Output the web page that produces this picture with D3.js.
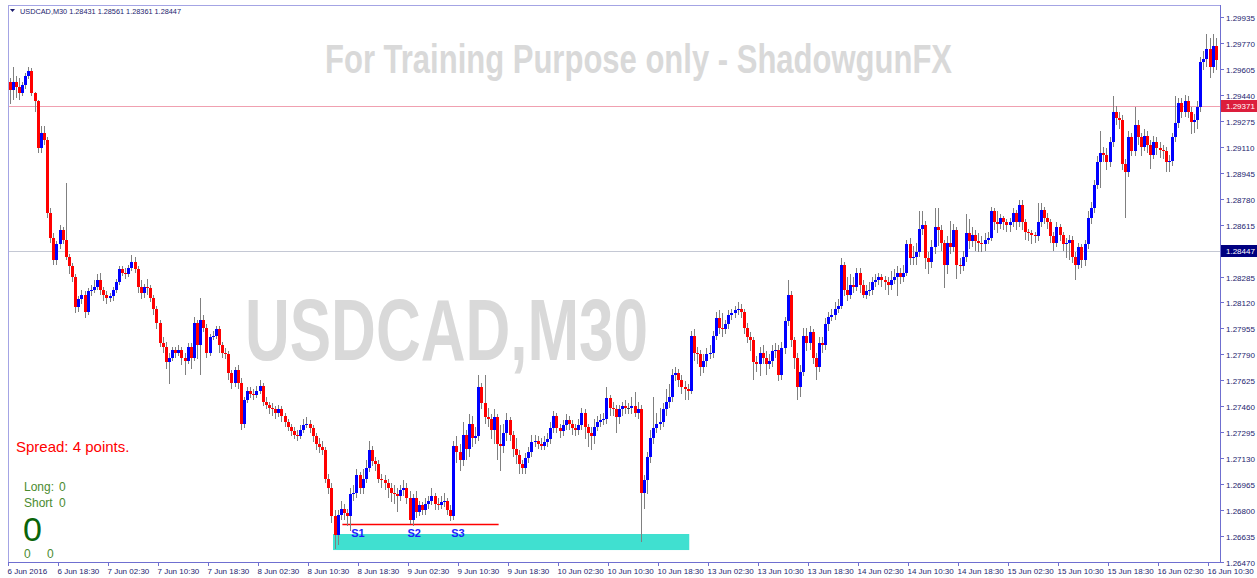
<!DOCTYPE html>
<html>
<head>
<meta charset="utf-8">
<script src="https://cdn.jsdelivr.net/npm/d3@7"></script>
<style>
  body { margin: 0; background: #fff; }
  svg { display: block; }
</style>
</head>
<body>
<div id="wrapper"></div>
<script>
// USDCAD M30 candles (open = previous close)
const firstOpen = 1.2952;

const closes = [
  1.2947,1.2952,1.2949,1.2945,1.2950,1.2956,1.2959,1.2945,1.2940,1.2910,1.2920,1.2915,1.2869,1.2853,1.2839,1.2849,
  1.2858,1.2852,1.2841,1.2835,1.2828,1.2809,1.2814,1.2817,1.2806,1.2819,1.2820,1.2822,1.2826,1.2820,1.2817,1.2815,
  1.2816,1.2820,1.2825,1.2833,1.2831,1.2830,1.2834,1.2838,1.2833,1.2822,1.2818,1.2822,1.2821,1.2815,1.2808,1.2799,
  1.2786,1.2784,1.2774,1.2777,1.2782,1.2780,1.2782,1.2777,1.2775,1.2784,1.2777,1.2799,1.2785,1.2801,1.2796,1.2780,
  1.2790,1.2791,1.2795,1.2785,1.2780,1.2779,1.2767,1.2761,1.2769,1.2761,1.2735,1.2750,1.2756,1.2754,1.2753,1.2756,
  1.2759,1.2749,1.2747,1.2745,1.2744,1.2742,1.2744,1.2740,1.2736,1.2733,1.2730,1.2728,1.2727,1.2731,1.2734,1.2735,
  1.2732,1.2727,1.2722,1.2720,1.2718,1.2700,1.2694,1.2676,1.2664,1.2677,1.2681,1.2678,1.2676,1.2690,1.2691,1.2702,
  1.2694,1.2700,1.2707,1.2718,1.2711,1.2709,1.2700,1.2699,1.2697,1.2694,1.2691,1.2690,1.2689,1.2693,1.2694,1.2688,
  1.2674,1.2688,1.2679,1.2683,1.2680,1.2684,1.2686,1.2689,1.2684,1.2683,1.2685,1.2686,1.2680,1.2676,1.2721,1.2717,
  1.2712,1.2728,1.2719,1.2735,1.2726,1.2727,1.2758,1.2748,1.2739,1.2738,1.2731,1.2739,1.2722,1.2721,1.2729,1.2737,
  1.2728,1.2719,1.2715,1.2709,1.2707,1.2713,1.2717,1.2723,1.2724,1.2722,1.2721,1.2723,1.2725,1.2732,1.2740,1.2732,
  1.2730,1.2734,1.2737,1.2735,1.2732,1.2731,1.2734,1.2742,1.2733,1.2729,1.2727,1.2733,1.2736,1.2737,1.2738,1.2751,
  1.2745,1.2744,1.2739,1.2744,1.2746,1.2745,1.2745,1.2746,1.2742,1.2744,1.2691,1.2699,1.2714,1.2726,1.2732,1.2735,
  1.2736,1.2744,1.2749,1.2752,1.2766,1.2767,1.2763,1.2758,1.2757,1.2756,1.2791,1.2780,1.2779,1.2771,1.2775,1.2779,
  1.2780,1.2791,1.2802,1.2796,1.2795,1.2798,1.2804,1.2805,1.2807,1.2808,1.2806,1.2796,1.2790,1.2788,1.2774,1.2773,
  1.2780,1.2777,1.2773,1.2775,1.2781,1.2782,1.2766,1.2783,1.2800,1.2817,1.2788,1.2777,1.2758,1.2768,1.2791,1.2786,
  1.2793,1.2777,1.2771,1.2786,1.2785,1.2798,1.2803,1.2804,1.2808,1.2810,1.2836,1.2820,1.2817,1.2823,1.2822,1.2831,
  1.2823,1.2817,1.2819,1.2820,1.2825,1.2826,1.2828,1.2826,1.2825,1.2823,1.2826,1.2828,1.2831,1.2828,1.2831,1.2849,
  1.2840,1.2841,1.2844,1.2859,1.2861,1.2840,1.2838,1.2847,1.2860,1.2858,1.2850,1.2836,1.2850,1.2847,1.2858,1.2836,
  1.2835,1.2841,1.2856,1.2851,1.2855,1.2851,1.2850,1.2849,1.2852,1.2853,1.2870,1.2863,1.2862,1.2866,1.2863,1.2861,
  1.2863,1.2869,1.2863,1.2874,1.2863,1.2857,1.2856,1.2855,1.2854,1.2863,1.2871,1.2866,1.2863,1.2854,1.2850,1.2860,
  1.2855,1.2849,1.2850,1.2852,1.2841,1.2836,1.2847,1.2839,1.2849,1.2866,1.2872,1.2887,1.2901,1.2907,1.2906,1.2901,
  1.2914,1.2933,1.2929,1.2928,1.2900,1.2895,1.2917,1.2908,1.2925,1.2917,1.2911,1.2918,1.2912,1.2906,1.2914,1.2910,
  1.2909,1.2908,1.2901,1.2902,1.2917,1.2926,1.2939,1.2933,1.2940,1.2933,1.2927,1.2928,1.2936,1.2965,1.2967,1.2973,
  1.2962,1.2975,1.2966
];

const highs = [
  1.2955,1.2962,1.2956,1.2955,1.2952,1.2958,1.2962,1.2961,1.2946,1.2941,1.2924,1.2924,1.2917,1.2872,1.2856,1.2851,
  1.2861,1.2860,1.2888,1.2843,1.2837,1.2830,1.2816,1.2820,1.2819,1.2821,1.2823,1.2826,1.2830,1.2831,1.2822,1.2819,
  1.2818,1.2822,1.2827,1.2835,1.2835,1.2834,1.2836,1.2842,1.2841,1.2835,1.2826,1.2824,1.2827,1.2823,1.2817,1.2810,
  1.2801,1.2790,1.2787,1.2780,1.2784,1.2784,1.2785,1.2784,1.2780,1.2786,1.2786,1.2803,1.2801,1.2815,1.2804,1.2798,
  1.2792,1.2794,1.2797,1.2797,1.2787,1.2783,1.2781,1.2769,1.2771,1.2772,1.2764,1.2752,1.2758,1.2758,1.2757,1.2759,
  1.2763,1.2761,1.2752,1.2749,1.2748,1.2746,1.2747,1.2746,1.2742,1.2738,1.2735,1.2733,1.2731,1.2734,1.2738,1.2739,
  1.2737,1.2734,1.2729,1.2726,1.2724,1.2720,1.2703,1.2697,1.2680,1.2680,1.2686,1.2684,1.2681,1.2694,1.2696,1.2706,
  1.2704,1.2706,1.2712,1.2724,1.2721,1.2714,1.2712,1.2703,1.2702,1.2700,1.2697,1.2696,1.2694,1.2696,1.2699,1.2697,
  1.2692,1.2690,1.2692,1.2686,1.2685,1.2688,1.2689,1.2694,1.2691,1.2688,1.2689,1.2691,1.2688,1.2683,1.2724,1.2727,
  1.2722,1.2736,1.2731,1.2741,1.2740,1.2733,1.2766,1.2761,1.2766,1.2745,1.2741,1.2744,1.2741,1.2734,1.2735,1.2742,
  1.2739,1.2730,1.2726,1.2718,1.2712,1.2716,1.2720,1.2728,1.2728,1.2727,1.2726,1.2727,1.2729,1.2736,1.2743,1.2742,
  1.2735,1.2737,1.2741,1.2740,1.2737,1.2735,1.2738,1.2745,1.2744,1.2735,1.2733,1.2738,1.2740,1.2741,1.2742,1.2758,
  1.2753,1.2749,1.2747,1.2747,1.2749,1.2750,1.2748,1.2752,1.2755,1.2749,1.2747,1.2702,1.2717,1.2731,1.2752,1.2742,
  1.2745,1.2748,1.2757,1.2760,1.2770,1.2771,1.2770,1.2766,1.2762,1.2760,1.2794,1.2795,1.2784,1.2782,1.2779,1.2783,
  1.2785,1.2794,1.2806,1.2807,1.2805,1.2801,1.2807,1.2808,1.2810,1.2812,1.2811,1.2808,1.2799,1.2793,1.2790,1.2778,
  1.2784,1.2785,1.2781,1.2779,1.2785,1.2786,1.2785,1.2787,1.2803,1.2826,1.2819,1.2790,1.2780,1.2772,1.2796,1.2796,
  1.2797,1.2795,1.2780,1.2790,1.2790,1.2802,1.2806,1.2808,1.2812,1.2814,1.2840,1.2838,1.2828,1.2830,1.2828,1.2834,
  1.2834,1.2826,1.2823,1.2825,1.2828,1.2830,1.2831,1.2830,1.2829,1.2828,1.2832,1.2833,1.2835,1.2834,1.2836,1.2852,
  1.2853,1.2848,1.2850,1.2870,1.2870,1.2864,1.2844,1.2852,1.2872,1.2872,1.2861,1.2852,1.2854,1.2864,1.2862,1.2860,
  1.2840,1.2845,1.2868,1.2865,1.2860,1.2858,1.2856,1.2854,1.2856,1.2857,1.2873,1.2872,1.2870,1.2868,1.2867,1.2865,
  1.2866,1.2872,1.2871,1.2877,1.2877,1.2865,1.2859,1.2858,1.2857,1.2875,1.2875,1.2873,1.2869,1.2865,1.2857,1.2863,
  1.2862,1.2857,1.2853,1.2855,1.2854,1.2844,1.2850,1.2849,1.2852,1.2870,1.2876,1.2890,1.2905,1.2921,1.2911,1.2910,
  1.2917,1.2943,1.2937,1.2933,1.2931,1.2903,1.2921,1.2920,1.2936,1.2928,1.2920,1.2922,1.2921,1.2915,1.2918,1.2917,
  1.2914,1.2912,1.2911,1.2906,1.2920,1.2943,1.2942,1.2942,1.2944,1.2943,1.2936,1.2932,1.2940,1.2968,1.2972,1.2983,
  1.2980,1.2983,1.2980
];

const lows = [
  1.2938,1.2941,1.2942,1.2941,1.2943,1.2948,1.2954,1.2943,1.2933,1.2907,1.2907,1.2912,1.2866,1.2850,1.2836,1.2836,
  1.2846,1.2849,1.2839,1.2830,1.2825,1.2805,1.2806,1.2811,1.2802,1.2804,1.2816,1.2818,1.2820,1.2817,1.2813,1.2811,
  1.2812,1.2813,1.2818,1.2823,1.2829,1.2827,1.2828,1.2832,1.2831,1.2818,1.2814,1.2815,1.2817,1.2812,1.2804,1.2795,
  1.2784,1.2780,1.2770,1.2760,1.2775,1.2777,1.2778,1.2772,1.2766,1.2773,1.2770,1.2775,1.2776,1.2766,1.2793,1.2777,
  1.2778,1.2788,1.2789,1.2780,1.2777,1.2776,1.2763,1.2757,1.2758,1.2757,1.2731,1.2732,1.2748,1.2751,1.2750,1.2751,
  1.2754,1.2746,1.2744,1.2741,1.2740,1.2738,1.2739,1.2736,1.2733,1.2730,1.2727,1.2725,1.2724,1.2725,1.2729,1.2732,
  1.2729,1.2723,1.2718,1.2716,1.2715,1.2697,1.2690,1.2672,1.2655,1.2658,1.2674,1.2674,1.2670,1.2667,1.2686,1.2688,
  1.2690,1.2690,1.2697,1.2704,1.2708,1.2705,1.2697,1.2694,1.2693,1.2688,1.2685,1.2684,1.2679,1.2686,1.2689,1.2684,
  1.2671,1.2670,1.2675,1.2676,1.2677,1.2677,1.2681,1.2683,1.2680,1.2680,1.2681,1.2682,1.2677,1.2673,1.2674,1.2710,
  1.2705,1.2708,1.2712,1.2714,1.2720,1.2722,1.2724,1.2744,1.2735,1.2733,1.2725,1.2722,1.2712,1.2705,1.2716,1.2724,
  1.2724,1.2714,1.2709,1.2703,1.2703,1.2703,1.2710,1.2714,1.2720,1.2719,1.2718,1.2718,1.2720,1.2722,1.2729,1.2729,
  1.2726,1.2727,1.2731,1.2731,1.2728,1.2727,1.2728,1.2731,1.2725,1.2720,1.2718,1.2722,1.2730,1.2733,1.2734,1.2735,
  1.2740,1.2740,1.2729,1.2735,1.2740,1.2741,1.2741,1.2741,1.2739,1.2738,1.2660,1.2681,1.2690,1.2710,1.2722,1.2729,
  1.2731,1.2733,1.2740,1.2745,1.2749,1.2762,1.2758,1.2754,1.2750,1.2750,1.2754,1.2775,1.2773,1.2765,1.2767,1.2771,
  1.2776,1.2777,1.2788,1.2792,1.2790,1.2792,1.2795,1.2801,1.2802,1.2804,1.2802,1.2792,1.2786,1.2781,1.2763,1.2768,
  1.2765,1.2773,1.2766,1.2770,1.2771,1.2777,1.2762,1.2763,1.2779,1.2797,1.2784,1.2770,1.2750,1.2752,1.2765,1.2781,
  1.2782,1.2773,1.2763,1.2768,1.2780,1.2782,1.2794,1.2800,1.2801,1.2805,1.2808,1.2816,1.2813,1.2814,1.2818,1.2819,
  1.2818,1.2815,1.2814,1.2816,1.2817,1.2822,1.2823,1.2822,1.2820,1.2817,1.2820,1.2824,1.2816,1.2824,1.2825,1.2829,
  1.2836,1.2836,1.2836,1.2841,1.2855,1.2833,1.2830,1.2834,1.2843,1.2848,1.2845,1.2821,1.2830,1.2843,1.2844,1.2827,
  1.2830,1.2832,1.2838,1.2846,1.2847,1.2845,1.2844,1.2844,1.2845,1.2849,1.2851,1.2858,1.2856,1.2859,1.2858,1.2857,
  1.2857,1.2860,1.2858,1.2860,1.2858,1.2852,1.2851,1.2849,1.2850,1.2851,1.2860,1.2862,1.2859,1.2850,1.2845,1.2847,
  1.2851,1.2845,1.2840,1.2839,1.2837,1.2826,1.2833,1.2834,1.2835,1.2846,1.2862,1.2869,1.2884,1.2885,1.2901,1.2896,
  1.2898,1.2911,1.2925,1.2922,1.2896,1.2866,1.2892,1.2905,1.2905,1.2912,1.2905,1.2908,1.2907,1.2897,1.2903,1.2906,
  1.2904,1.2903,1.2895,1.2895,1.2899,1.2914,1.2923,1.2929,1.2930,1.2929,1.2919,1.2920,1.2922,1.2933,1.2960,1.2962,
  1.2955,1.2958,1.2960
];

// one label every 16 bars (8 hours of M30)
const timeLabels = [
  "6 Jun 2016", "6 Jun 18:30", "7 Jun 02:30", "7 Jun 10:30", "7 Jun 18:30",
  "8 Jun 02:30", "8 Jun 10:30", "8 Jun 18:30", "9 Jun 02:30", "9 Jun 10:30",
  "9 Jun 18:30", "10 Jun 02:30", "10 Jun 10:30", "10 Jun 18:30", "13 Jun 02:30",
  "13 Jun 10:30", "13 Jun 18:30", "14 Jun 02:30", "14 Jun 10:30", "14 Jun 18:30",
  "15 Jun 02:30", "15 Jun 10:30", "15 Jun 18:30", "16 Jun 02:30", "16 Jun 10:30"
];
const barsPerLabel = 16;

const priceTicks = [
  "1.29935", "1.29770", "1.29605", "1.29440", "1.29275", "1.29110", "1.28945",
  "1.28780", "1.28615", "1.28285", "1.28120", "1.27955", "1.27790", "1.27625",
  "1.27460", "1.27295", "1.27130", "1.26965", "1.26800", "1.26635", "1.26470"
];
const priceMin = 1.26470;
const priceMax = 1.29935;

const bidPrice = 1.28447;
const alertPrice = 1.29371;

// demand zone, support line and swing lows
const zonePrices = [1.26546, 1.26648];
const zoneBars = [104, 218];
const supportPrice = 1.2671;
const supportBars = [107, 157];
const swingNames = ["S1", "S2", "S3"];
const swingBars = [112, 130, 144];
const swingPrice = 1.26626;

const headerText = "USDCAD,M30  1.28431 1.28561 1.28361 1.28447";

// 1. chart dimensions
const width = 1257;
const height = 578;
const plot = { left: 8, top: 5, right: 1220, bottom: 562 };

const svg = d3.select("#wrapper")
  .append("svg")
  .attr("width", width)
  .attr("height", height)
  .style("font-family", "'Liberation Sans', Arial, sans-serif");

svg.append("rect").attr("width", width).attr("height", height).attr("fill", "#fff");

// 2. scales
const xScale = d3.scaleLinear()
  .domain([0, 384])
  .range([plot.left, plot.left + 1200]);

const yScale = d3.scaleLinear()
  .domain([priceMin, priceMax])
  .range([plot.bottom, 17]);

const bars = closes.map((c, i) => ({
  i,
  open: i === 0 ? firstOpen : closes[i - 1],
  close: c,
  high: highs[i],
  low: lows[i],
}));

// 3. watermarks
svg.append("text")
  .attr("x", 325).attr("y", 73)
  .attr("textLength", 627).attr("lengthAdjust", "spacingAndGlyphs")
  .attr("font-family", "'Liberation Sans Narrow', 'Liberation Sans', Arial, sans-serif")
  .attr("font-weight", "bold").attr("font-size", 40)
  .attr("fill", "#d9d9d9")
  .text("For Training Purpose only - ShadowgunFX");

svg.append("text")
  .attr("x", 245).attr("y", 360)
  .attr("textLength", 403).attr("lengthAdjust", "spacingAndGlyphs")
  .attr("font-family", "'Liberation Sans Narrow', 'Liberation Sans', Arial, sans-serif")
  .attr("font-weight", "bold").attr("font-size", 87)
  .attr("fill", "#d9d9d9")
  .text("USDCAD,M30");

const chart = svg.append("g");

// level lines
chart.append("line")
  .attr("x1", plot.left).attr("x2", plot.right)
  .attr("y1", Math.round(yScale(alertPrice)) + 0.5).attr("y2", Math.round(yScale(alertPrice)) + 0.5)
  .attr("stroke", "#f0a0b0").attr("stroke-width", 1.2);

chart.append("line")
  .attr("x1", plot.left).attr("x2", plot.right)
  .attr("y1", Math.round(yScale(bidPrice)) + 0.5).attr("y2", Math.round(yScale(bidPrice)) + 0.5)
  .attr("stroke", "#c4c8d4").attr("stroke-width", 1.2);

// zone
chart.append("rect")
  .attr("x", xScale(zoneBars[0]))
  .attr("width", xScale(zoneBars[1]) - xScale(zoneBars[0]))
  .attr("y", yScale(zonePrices[1]))
  .attr("height", yScale(zonePrices[0]) - yScale(zonePrices[1]))
  .attr("fill", "#40e0d0");

// support line
chart.append("line")
  .attr("x1", xScale(supportBars[0])).attr("x2", xScale(supportBars[1]))
  .attr("y1", Math.round(yScale(supportPrice)) + 0.5).attr("y2", Math.round(yScale(supportPrice)) + 0.5)
  .attr("stroke", "#ff0000").attr("stroke-width", 1.5);

// 4. candles
const candles = chart.append("g").attr("shape-rendering", "crispEdges");
const cx = (d) => Math.round(xScale(d.i + 0.5));

candles.selectAll("line")
  .data(bars)
  .join("line")
  .attr("x1", (d) => cx(d) + 0.5).attr("x2", (d) => cx(d) + 0.5)
  .attr("y1", (d) => yScale(d.high)).attr("y2", (d) => yScale(d.low))
  .attr("stroke", "#808080").attr("stroke-width", 1);

candles.selectAll("rect")
  .data(bars)
  .join("rect")
  .attr("x", (d) => cx(d) - 1)
  .attr("width", 3)
  .attr("y", (d) => yScale(Math.max(d.open, d.close)))
  .attr("height", (d) => Math.max(1, Math.abs(yScale(d.open) - yScale(d.close))))
  .attr("fill", (d) => (d.close > d.open ? "#0000ff" : d.close < d.open ? "#ff0000" : "#404040"));

// swing labels
chart.selectAll("text.swing")
  .data(swingNames)
  .join("text")
  .attr("class", "swing")
  .attr("x", (d, i) => xScale(swingBars[i]))
  .attr("y", yScale(swingPrice))
  .attr("text-anchor", "middle")
  .attr("font-size", 11).attr("font-weight", "bold")
  .attr("fill", "#1a1aff")
  .text((d) => d);

// 5. frame and axes
const axisColor = "#6f6fd0";
svg.append("line").attr("x1", plot.left + 0.5).attr("x2", plot.left + 0.5)
  .attr("y1", plot.top).attr("y2", plot.bottom).attr("stroke", "#a4a4e4");
svg.append("line").attr("x1", plot.left).attr("x2", plot.right)
  .attr("y1", plot.top + 0.5).attr("y2", plot.top + 0.5).attr("stroke", "#a4a4e4");
svg.append("line").attr("x1", plot.right + 0.5).attr("x2", plot.right + 0.5)
  .attr("y1", plot.top).attr("y2", plot.bottom + 1).attr("stroke", axisColor);
svg.append("line").attr("x1", plot.left).attr("x2", plot.right + 1)
  .attr("y1", plot.bottom + 0.5).attr("y2", plot.bottom + 0.5).attr("stroke", axisColor);

// time axis
const xTicks = svg.append("g").selectAll("g")
  .data(timeLabels)
  .join("g")
  .attr("transform", (d, i) => `translate(${Math.round(xScale(i * barsPerLabel)) + 0.5},0)`);
xTicks.append("line")
  .attr("y1", plot.bottom).attr("y2", plot.bottom + 4)
  .attr("stroke", axisColor);
xTicks.append("text")
  .attr("x", -1).attr("y", 574)
  .attr("font-size", 8).attr("fill", "#1c1c6e")
  .text((d) => d);

// price axis
const yTicks = svg.append("g").selectAll("g")
  .data(priceTicks)
  .join("g")
  .attr("transform", (d) => `translate(0,${Math.round(yScale(+d)) + 0.5})`);
yTicks.append("line")
  .attr("x1", plot.right).attr("x2", plot.right + 4)
  .attr("stroke", axisColor);
yTicks.append("text")
  .attr("x", 1226).attr("y", 3)
  .attr("font-size", 8).attr("fill", "#1c1c6e")
  .text((d) => d);

// price tags
function priceTag(price, bg) {
  const yy = Math.round(yScale(price));
  svg.append("rect")
    .attr("x", plot.right + 1).attr("y", yy - 6)
    .attr("width", width - plot.right - 1).attr("height", 12)
    .attr("fill", bg);
  svg.append("text")
    .attr("x", 1226).attr("y", yy + 3)
    .attr("font-size", 8).attr("fill", "#fff")
    .text(price.toFixed(5));
}
priceTag(alertPrice, "#dc1e3c");
priceTag(bidPrice, "#000080");

// 6. header and info texts
svg.append("path").attr("d", "M10,9 L15,9 L12.5,12 Z").attr("fill", "#1c1c6e");
svg.append("text")
  .attr("x", 20).attr("y", 14)
  .attr("font-size", 8).attr("fill", "#1c1c6e")
  .attr("textLength", 161).attr("lengthAdjust", "spacingAndGlyphs")
  .text(headerText);

svg.append("text")
  .attr("x", 16).attr("y", 452)
  .attr("font-size", 15).attr("fill", "#ff0000")
  .text("Spread: 4 points.");

const info = svg.append("g").attr("fill", "#4b8b2f");
info.append("text").attr("x", 24).attr("y", 491).attr("font-size", 12).text("Long:");
info.append("text").attr("x", 59).attr("y", 491).attr("font-size", 12).text("0");
info.append("text").attr("x", 24).attr("y", 507).attr("font-size", 12).text("Short");
info.append("text").attr("x", 59).attr("y", 507).attr("font-size", 12).text("0");
info.append("text").attr("x", 23).attr("y", 541).attr("font-size", 34).attr("fill", "#0a640a").text("0");
info.append("text").attr("x", 24).attr("y", 558).attr("font-size", 12).text("0");
info.append("text").attr("x", 47).attr("y", 558).attr("font-size", 12).text("0");
</script>
</body>
</html>
